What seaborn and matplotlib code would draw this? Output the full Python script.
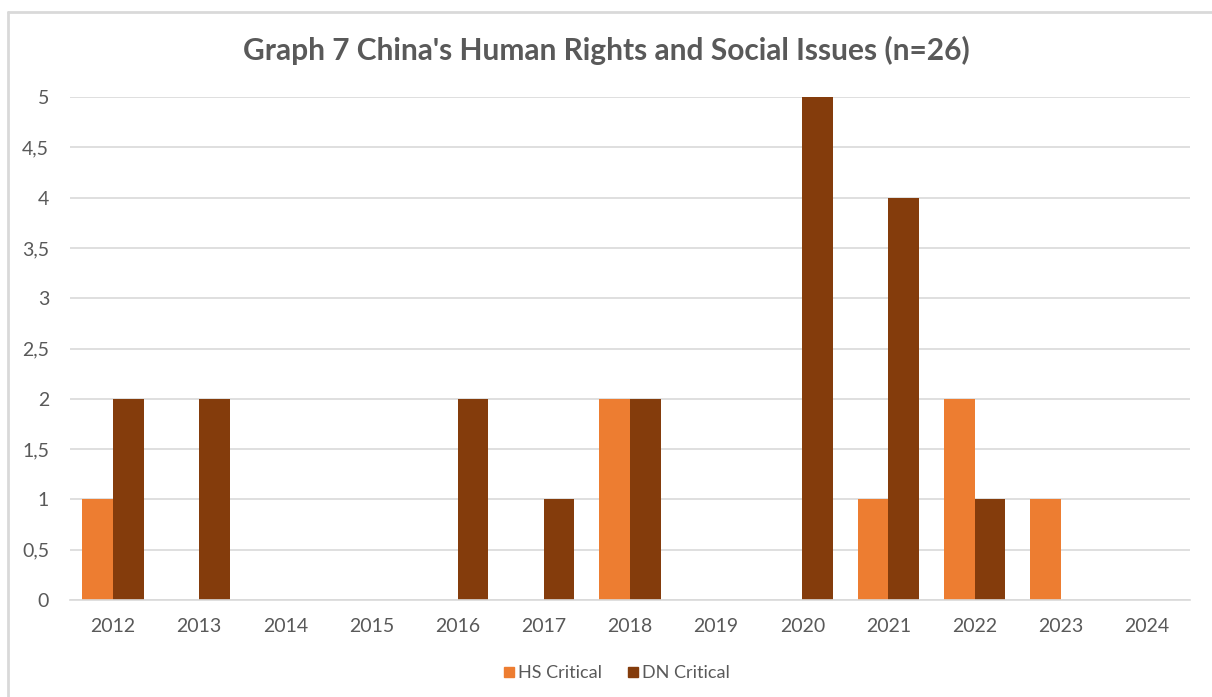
import matplotlib
matplotlib.use("Agg")
import matplotlib.pyplot as plt
import seaborn as sns
import pandas as pd
from matplotlib.lines import Line2D
from matplotlib.ticker import FuncFormatter, MultipleLocator

years = ["2012", "2013", "2014", "2015", "2016", "2017", "2018",
         "2019", "2020", "2021", "2022", "2023", "2024"]
hs_critical = [1, 0, 0, 0, 0, 0, 2, 0, 0, 1, 2, 1, 0]
dn_critical = [2, 2, 0, 0, 2, 1, 2, 0, 5, 4, 1, 0, 0]
series_names = ["HS Critical", "DN Critical"]
colors = ["#ED7D31", "#843C0C"]

df = pd.DataFrame({
    "Year": years * 2,
    "Value": hs_critical + dn_critical,
    "Series": [series_names[0]] * len(years) + [series_names[1]] * len(years),
})

sns.set_theme(style="white")
plt.rcParams["font.family"] = ["Lato", "DejaVu Sans"]

fig = plt.figure(figsize=(12.12, 6.97), dpi=100)
ax = fig.add_axes([70 / 1212, 1 - 600 / 697, (1190 - 70) / 1212, (600 - 97) / 697])

sns.barplot(data=df, x="Year", y="Value", hue="Series", order=years,
            hue_order=series_names, palette=colors, width=0.71, gap=0,
            saturation=1, linewidth=0, ax=ax, legend=False)

ax.set_ylim(0, 5)
ax.set_xlim(-0.5, len(years) - 0.5)
ax.yaxis.set_major_locator(MultipleLocator(0.5))
ax.yaxis.set_major_formatter(FuncFormatter(
    lambda v, p: ("%g" % v).replace(".", ",")))
ax.grid(axis="y", color="#D9D9D9", linewidth=1.2)
ax.set_axisbelow(True)
for s in ["top", "right", "left"]:
    ax.spines[s].set_visible(False)
ax.spines["bottom"].set_color("#D9D9D9")
ax.spines["bottom"].set_linewidth(1.2)
ax.set_xlabel("")
ax.set_ylabel("")
ax.tick_params(axis="both", length=0, labelsize=14, colors="#595959")
ax.tick_params(axis="y", pad=15)
ax.tick_params(axis="x", pad=13)

fig.text(0.5, 1 - 50 / 697, "Graph 7 China's Human Rights and Social Issues (n=26)",
         ha="center", va="center", fontsize=21.5, fontweight="bold", color="#595959")

handles = [Line2D([0], [0], marker="s", linestyle="none", markersize=7.5,
                  markerfacecolor=c, markeredgecolor=c) for c in colors]
fig.legend(handles, series_names, loc="center", bbox_to_anchor=(615 / 1212, 1 - 673 / 697),
           ncol=2, frameon=False, fontsize=13, labelcolor="#595959",
           handletextpad=0.0, columnspacing=1.2, handlelength=1.0)

# chart border (light gray)
fig.add_artist(Line2D([8 / 1212, 1.0], [1 - 12 / 697, 1 - 12 / 697],
                      color="#D9D9D9", linewidth=2, transform=fig.transFigure))
fig.add_artist(Line2D([8 / 1212, 8 / 1212], [0, 1 - 12 / 697],
                      color="#D9D9D9", linewidth=2, transform=fig.transFigure))

fig.savefig("out.png", dpi=100, facecolor="white")
